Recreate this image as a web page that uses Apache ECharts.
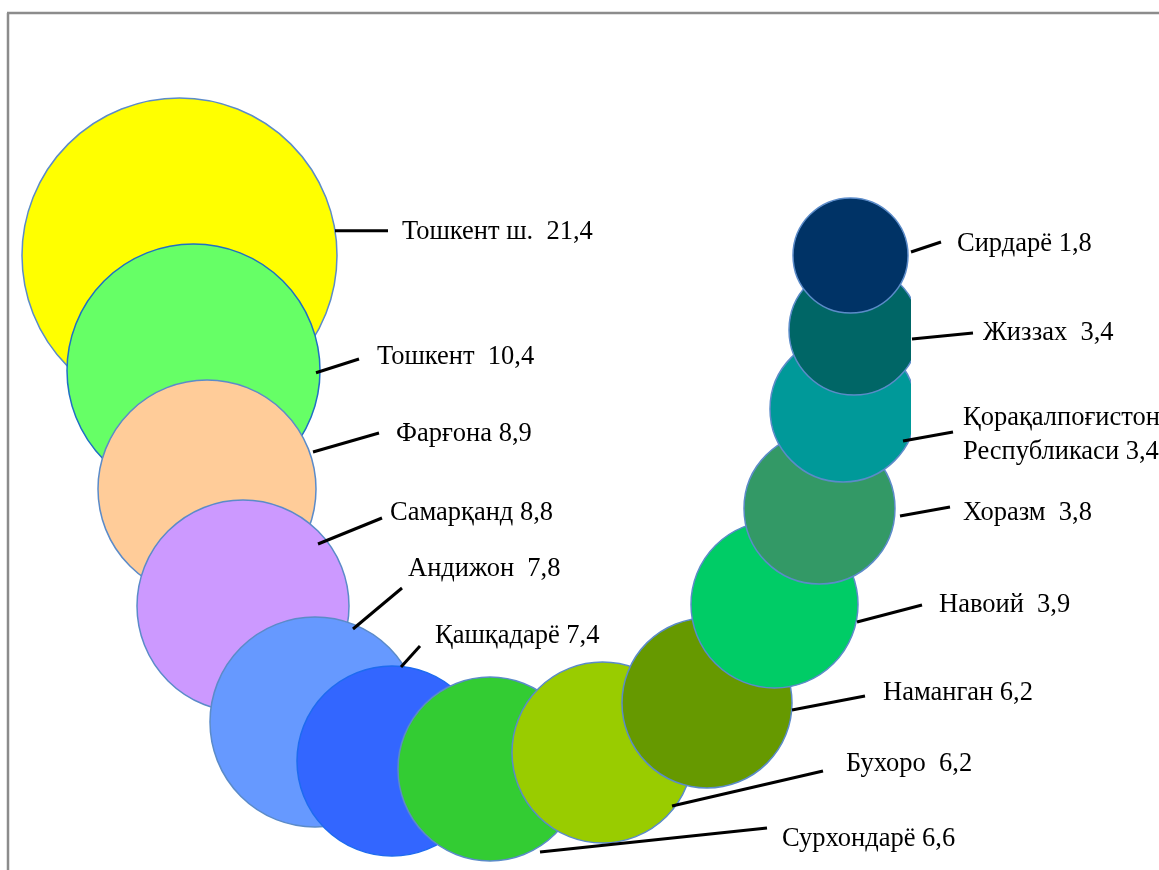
<!DOCTYPE html>
<html>
<head>
<meta charset="utf-8">
<script src="https://cdn.jsdelivr.net/npm/echarts@6/dist/echarts.min.js"></script>
<style>
html,body{margin:0;padding:0;background:#fff;}
#chart{width:1159px;height:870px;}
</style>
</head>
<body>
<div id="chart"></div>
<script>
// ---- data ----
const regions = ['Тошкент ш.', 'Тошкент', 'Фарғона', 'Самарқанд', 'Андижон', 'Қашқадарё', 'Сурхондарё',
  'Бухоро', 'Наманган', 'Навоий', 'Хоразм', 'Қорақалпоғистон\nРеспубликаси', 'Жиззах', 'Сирдарё'];
const values = [21.4, 10.4, 8.9, 8.8, 7.8, 7.4, 6.6, 6.2, 6.2, 3.9, 3.8, 3.4, 3.4, 1.8];
// bubble placement (x, y) and bubble size
const posX = [179.5, 193.5, 207, 243, 315, 392, 490, 602.5, 707, 774.5, 819.5, 843, 854, 850.5];
const posY = [255.5, 370.5, 489, 606, 722, 761, 769, 752.5, 703, 604.5, 508.5, 409, 330, 255.5];
const bubbleSize = [157.5, 126.5, 109, 106, 105, 95, 92, 90.5, 85, 83.5, 75.5, 73, 65, 57.5];

// ---- styles / layout ----
const colors = ['#FFFF00', '#66FF66', '#FFCC99', '#CC99FF', '#6699FF', '#3366FF', '#33CC33',
  '#99CC00', '#669900', '#00CC66', '#339966', '#009999', '#006666', '#003366'];
const borders = ['#5B8BC9', '#1F6FC5', '#5B8BC9', '#5B8BC9', '#5B8BC9', '#1E6BF0', '#5B8BC9',
  '#5B8BC9', '#5B8BC9', '#5B8BC9', '#5B8BC9', '#5B8BC9', '#5B8BC9', '#5B8BC9'];
const gaps = ['  ', '  ', ' ', ' ', '  ', ' ', ' ', '  ', ' ', '  ', '  ', ' ', '  ', ' '];
// leader line start, leader line end, text anchor — offsets from bubble centre (px)
const labelLayout = [
  [155.5, -24.8, 208.5, -24.8, 222.5, -23.5],
  [122.5, 2.2, 165.5, -11.5, 183.5, -13.5],
  [106, -37, 172, -56, 189, -55],
  [75, -62, 139, -88, 147, -93],
  [38, -93, 87, -134, 93, -153],
  [9, -94, 28, -115, 43, -125],
  [50, 83, 277, 59, 292, 70],
  [69.5, 53.5, 220.5, 18.5, 243.5, 11.5],
  [85, 7, 158, -7, 176, -10],
  [82.5, 17.5, 147.5, 0.5, 164.5, 0.5],
  [80.5, 7.5, 130.5, -1.5, 143.5, 4.5],
  [60, 32, 110, 23, 120, 26],
  [58, 9, 119, 3, 129, 3],
  [60.5, -3.5, 90.5, -13.5, 106.5, -11.5]
];

const fmt = v => v.toFixed(1).replace('.', ',');
const bubbleData = regions.map((n, i) => ({
  name: n,
  value: [posX[i], posY[i], bubbleSize[i], values[i]],
  itemStyle: { color: colors[i], borderColor: borders[i], borderWidth: 1.5, opacity: 1 }
}));

const chart = echarts.init(document.getElementById('chart'), null, { renderer: 'canvas' });
chart.setOption({
  animation: false,
  backgroundColor: '#ffffff',
  grid: { left: 0, right: 0, top: 0, bottom: 0 },
  xAxis: { type: 'value', min: 0, max: 1159, show: false },
  yAxis: { type: 'value', min: 0, max: 870, inverse: true, show: false },
  graphic: [
    { type: 'rect', z: 3, shape: { x: 911, y: 285, width: 45, height: 170 }, style: { fill: '#ffffff' }, silent: true },
    { type: 'line', z: 10, shape: { x1: 7, y1: 13, x2: 1159, y2: 13 }, style: { stroke: '#8c8c8c', lineWidth: 2.5 }, silent: true },
    { type: 'line', z: 10, shape: { x1: 8, y1: 13, x2: 8, y2: 870 }, style: { stroke: '#8c8c8c', lineWidth: 2.5 }, silent: true }
  ],
  series: [
    {
      type: 'scatter',
      z: 2,
      silent: true,
      emphasis: { disabled: true },
      symbol: 'circle',
      symbolSize: v => v[2] * 2,
      itemStyle: { opacity: 1 },
      data: bubbleData
    },
    {
      type: 'custom',
      z: 5,
      silent: true,
      data: bubbleData.map(d => d.value),
      renderItem: function (params, api) {
        const i = params.dataIndex;
        const c = api.coord([api.value(0), api.value(1)]);
        const L = labelLayout[i];
        return {
          type: 'group',
          children: [
            { type: 'line', shape: { x1: c[0] + L[0], y1: c[1] + L[1], x2: c[0] + L[2], y2: c[1] + L[3] },
              style: { stroke: '#000000', lineWidth: 3 } },
            { type: 'text', x: c[0] + L[4], y: c[1] + L[5],
              style: { text: regions[i] + gaps[i] + fmt(values[i]), fill: '#000000',
                fontSize: 26.5, fontFamily: '"Liberation Serif", "DejaVu Serif", serif',
                align: 'left', verticalAlign: 'middle', lineHeight: 34 } }
          ]
        };
      }
    }
  ]
});
</script>
</body>
</html>
